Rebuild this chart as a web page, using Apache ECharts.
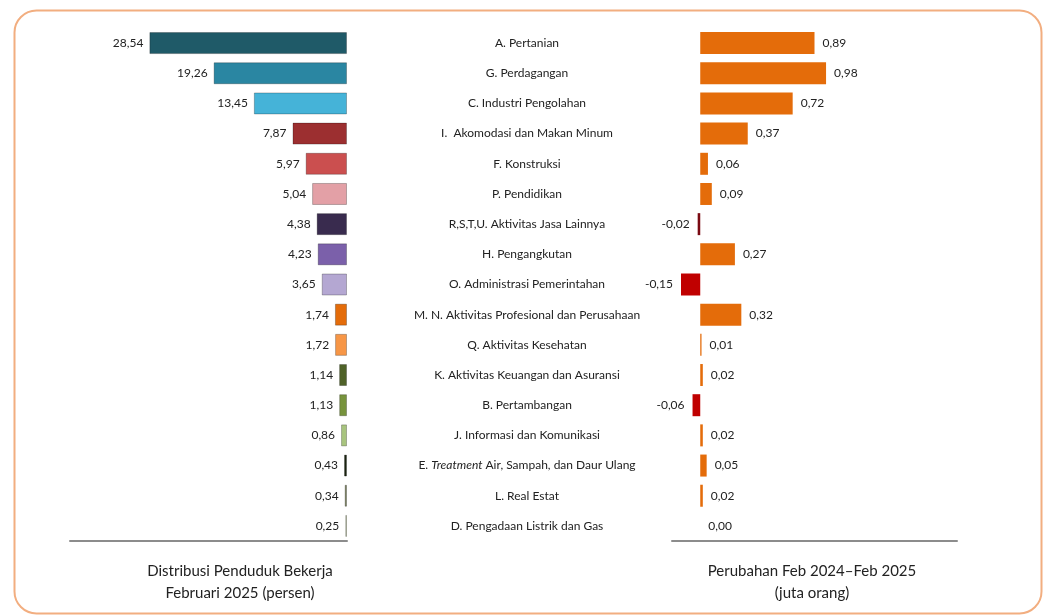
<!DOCTYPE html>
<html>
<head>
<meta charset="utf-8">
<script src="https://cdn.jsdelivr.net/npm/echarts@6/dist/echarts.min.js"></script>
<style>
  html, body { margin: 0; padding: 0; background: #fff; }
  #main { width: 1046px; height: 615px; }
</style>
</head>
<body>
<div id="main"></div>
<script>
// data
var categories = [
    'A. Pertanian', 'G. Perdagangan', 'C. Industri Pengolahan', 'I.  Akomodasi dan Makan Minum',
    'F. Konstruksi', 'P. Pendidikan', 'R,S,T,U. Aktivitas Jasa Lainnya', 'H. Pengangkutan',
    'O. Administrasi Pemerintahan', 'M. N. Aktivitas Profesional dan Perusahaan', 'Q. Aktivitas Kesehatan',
    'K. Aktivitas Keuangan dan Asuransi', 'B. Pertambangan', 'J. Informasi dan Komunikasi',
    'E. {i|Treatment} Air, Sampah, dan Daur Ulang', 'L. Real Estat', 'D. Pengadaan Listrik dan Gas'
];
var shares = [28.54, 19.26, 13.45, 7.87, 5.97, 5.04, 4.38, 4.23, 3.65, 1.74, 1.72, 1.14, 1.13, 0.86, 0.43, 0.34, 0.25];
var changes = [0.89, 0.98, 0.72, 0.37, 0.06, 0.09, -0.02, 0.27, -0.15, 0.32, 0.01, 0.02, -0.06, 0.02, 0.05, 0.02, 0.00];

// colours
var shareColors = ['#1F5A68', '#2A86A2', '#45B3D8', '#9C2F30', '#CB4F4F', '#E3A0A6', '#392B4E', '#7B60AA',
    '#B4A7D2', '#E46C0A', '#F79646', '#4F6228', '#77933C', '#A8C47E', '#1B2410', '#7E8460', '#C5CFA5'];
var changeColors = ['#E46C0A', '#E46C0A', '#E46C0A', '#E46C0A', '#E46C0A', '#E46C0A', '#7A0A12', '#E46C0A',
    '#C00000', '#E46C0A', '#E46C0A', '#E46C0A', '#C00000', '#E46C0A', '#E46C0A', '#E46C0A', '#E46C0A'];

function fmt(v) {
    return v.toFixed(2).replace('.', ',');
}

var font = 'Lato, "Open Sans", sans-serif';
var chart = echarts.init(document.getElementById('main'));
chart.setOption({
    animation: false,
    textStyle: { fontFamily: font },
    grid: [
        { left: 70, width: 277, top: 28, height: 513 },
        { left: 672, width: 285, top: 28, height: 513 }
    ],
    xAxis: [
        {
            gridIndex: 0, type: 'value', inverse: true, min: 0, max: 40,
            axisLine: { show: true, onZero: false, lineStyle: { color: '#8c8c8c', width: 2 } },
            axisTick: { show: false }, axisLabel: { show: false }, splitLine: { show: false }
        },
        {
            gridIndex: 1, type: 'value', min: -0.22, max: 2,
            axisLine: { show: true, onZero: false, lineStyle: { color: '#8c8c8c', width: 2 } },
            axisTick: { show: false }, axisLabel: { show: false }, splitLine: { show: false }
        }
    ],
    yAxis: [
        {
            gridIndex: 0, type: 'category', data: categories, inverse: true, position: 'right',
            axisLine: { show: false }, axisTick: { show: false },
            axisLabel: {
                margin: 180, align: 'center', fontSize: 12, color: '#222', fontFamily: font,
                rich: { i: { fontStyle: 'italic', fontSize: 12, color: '#222', fontFamily: font } }
            }
        },
        {
            gridIndex: 1, type: 'category', data: categories, inverse: true,
            axisLine: { show: false }, axisTick: { show: false }, axisLabel: { show: false }
        }
    ],
    series: [
        {
            type: 'bar', xAxisIndex: 0, yAxisIndex: 0, barWidth: 22,
            data: shares.map(function (v, i) {
                return { value: v, itemStyle: { color: shareColors[i] } };
            }),
            itemStyle: { borderColor: 'rgba(0,0,0,0.25)', borderWidth: 1 },
            label: {
                show: true, position: 'left', distance: 6, fontSize: 12, color: '#222',
                formatter: function (p) { return fmt(p.value); }
            }
        },
        {
            type: 'bar', xAxisIndex: 1, yAxisIndex: 1, barWidth: 22,
            data: changes.map(function (v, i) {
                return {
                    value: v, itemStyle: { color: changeColors[i] },
                    label: { position: v < 0 ? 'left' : 'right' }
                };
            }),
            label: {
                show: true, distance: 8, fontSize: 12, color: '#222',
                formatter: function (p) { return fmt(p.value); }
            }
        }
    ],
    graphic: [
        {
            type: 'rect', left: 12, top: 8,
            shape: { width: 1027, height: 603, r: 22 },
            style: { fill: 'none', stroke: '#F2AE80', lineWidth: 2 }
        },
        {
            type: 'text', x: 240, y: 560,
            style: {
                text: 'Distribusi Penduduk Bekerja\nFebruari 2025 (persen)',
                textAlign: 'center', lineHeight: 22, fill: '#222', font: '15px ' + font
            }
        },
        {
            type: 'text', x: 812, y: 560,
            style: {
                text: 'Perubahan Feb 2024–Feb 2025\n(juta orang)',
                textAlign: 'center', lineHeight: 22, fill: '#222', font: '15px ' + font
            }
        }
    ]
});
</script>
</body>
</html>
